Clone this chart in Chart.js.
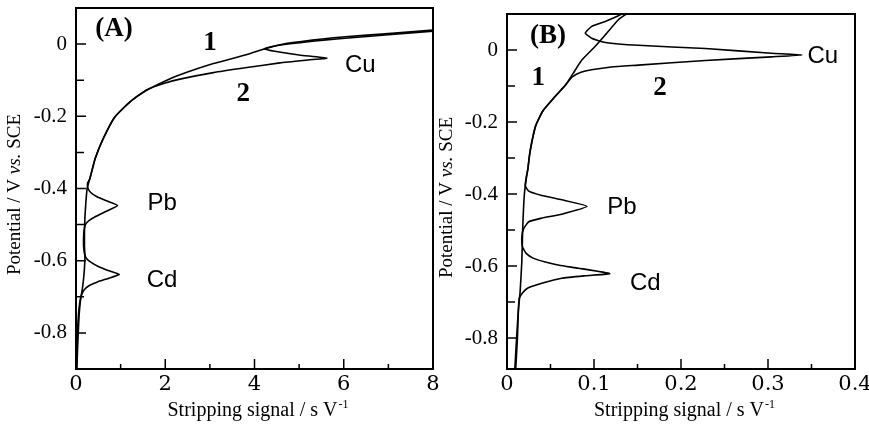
<!DOCTYPE html>
<html>
<head>
<meta charset="utf-8">
<script src="https://cdn.jsdelivr.net/npm/chart.js@4.4.0/dist/chart.umd.min.js"></script>
<style>
  html, body { margin: 0; padding: 0; background: #fff; }
  #wrap { position: relative; width: 869px; height: 425px; }
  canvas { position: absolute; top: 0; }
  #chartA { left: 0; }
  #chartB { left: 430px; }
</style>
</head>
<body>
<div id="wrap">
  <canvas id="chartA" width="440" height="425"></canvas>
  <canvas id="chartB" width="439" height="425"></canvas>
</div>
<script>
// [stripping signal (s/V), potential (V vs SCE)] pairs, listed from the cathodic end upward

// (A) curve 1
const curveA1 = [
  [0.02, -0.90], [0.03, -0.86], [0.05, -0.80], [0.07, -0.75], [0.10, -0.71], [0.14, -0.68],
  [0.17, -0.65], [0.19, -0.62], [0.20, -0.59], [0.19, -0.56], [0.19, -0.52], [0.20, -0.48],
  [0.22, -0.44], [0.25, -0.40], [0.31, -0.373], [0.43, -0.317], [0.61, -0.262], [0.87, -0.202],
  [1.21, -0.16], [1.58, -0.128], [2.0, -0.102], [2.33, -0.085], [3.08, -0.054], [3.83, -0.029],
  [4.2, -0.014], [4.6, -0.001], [5.3, 0.011], [5.9, 0.019], [7.0, 0.029], [8.0, 0.039]
];

// (A) curve 2: Cd, Pb and Cu peaks
const curveA2 = [
  [0.01, -0.90], [0.02, -0.84], [0.04, -0.78], [0.07, -0.73], [0.11, -0.70], [0.16, -0.685],
  [0.22, -0.676], [0.31, -0.668], [0.48, -0.659], [0.72, -0.649], [0.97, -0.638], [0.72, -0.627],
  [0.50, -0.616], [0.33, -0.604], [0.23, -0.593], [0.19, -0.58], [0.17, -0.56], [0.17, -0.535],
  [0.18, -0.515], [0.21, -0.50], [0.29, -0.489], [0.45, -0.477], [0.68, -0.463], [0.93, -0.447],
  [0.68, -0.434], [0.47, -0.423], [0.33, -0.411], [0.27, -0.40], [0.26, -0.385], [0.31, -0.373],
  [0.43, -0.317], [0.61, -0.262], [0.87, -0.202], [1.21, -0.16], [1.58, -0.127], [2.0, -0.108],
  [2.33, -0.097], [3.08, -0.079], [3.83, -0.065], [4.57, -0.052], [5.2, -0.044], [5.62, -0.039],
  [5.0, -0.030], [4.42, -0.019], [4.22, -0.013], [4.5, -0.004], [5.3, 0.008], [5.9, 0.015],
  [7.0, 0.026], [8.0, 0.036]
];

// (B) curve 1
const curveB1 = [
  [0.009, -0.886], [0.011, -0.80], [0.013, -0.725], [0.015, -0.674], [0.017, -0.59], [0.018, -0.50],
  [0.019, -0.44], [0.020, -0.40], [0.022, -0.36], [0.024, -0.33], [0.026, -0.29], [0.029, -0.25],
  [0.033, -0.21], [0.041, -0.17], [0.055, -0.13], [0.067, -0.098], [0.076, -0.065], [0.086, -0.028],
  [0.101, 0.009], [0.113, 0.042], [0.128, 0.084], [0.137, 0.10]
];

// (B) curve 2: Cd, Pb and Cu peaks
const curveB2 = [
  [0.010, -0.886], [0.012, -0.80], [0.013, -0.73], [0.014, -0.69], [0.018, -0.674], [0.024, -0.661],
  [0.040, -0.648], [0.063, -0.634], [0.090, -0.627], [0.118, -0.621], [0.082, -0.606], [0.060, -0.598],
  [0.044, -0.589], [0.030, -0.578], [0.022, -0.565], [0.018, -0.548], [0.017, -0.52], [0.019, -0.497],
  [0.025, -0.477], [0.040, -0.467], [0.063, -0.456], [0.092, -0.434], [0.063, -0.416], [0.040, -0.404],
  [0.025, -0.392], [0.021, -0.377], [0.022, -0.355], [0.024, -0.33], [0.026, -0.29], [0.029, -0.25],
  [0.033, -0.21], [0.041, -0.17], [0.055, -0.13], [0.067, -0.098], [0.075, -0.075], [0.085, -0.062],
  [0.097, -0.055], [0.120, -0.047], [0.151, -0.042], [0.228, -0.029], [0.304, -0.019], [0.339, -0.014],
  [0.304, -0.009], [0.228, 0.004], [0.151, 0.013], [0.113, 0.021], [0.098, 0.032], [0.090, 0.047],
  [0.097, 0.065], [0.113, 0.079], [0.128, 0.095], [0.132, 0.10]
];

// axis ticks
const potTicks = [-0.8, -0.6, -0.4, -0.2, 0];
const potMinor = [-0.7, -0.5, -0.3, -0.1];
const sigTicksA = [0, 2, 4, 6, 8];
const sigMinorA = [1, 3, 5, 7];
const sigTicksB = [0, 0.1, 0.2, 0.3, 0.4];
const sigMinorB = [0.05, 0.15, 0.25, 0.35];

const SERIF = '"Liberation Serif", "Times New Roman", serif';
const SANS = '"Liberation Sans", Arial, sans-serif';

// text labels placed in data coordinates
const notesA = [
  { text: '(A)', x: 0.85, y: 0.042, bold: true },
  { text: '1', x: 3.0, y: 0.004, bold: true },
  { text: '2', x: 3.75, y: -0.137, bold: true },
  { text: 'Cu', x: 6.37, y: -0.058 },
  { text: 'Pb', x: 1.93, y: -0.442 },
  { text: 'Cd', x: 1.93, y: -0.655 }
];
const notesB = [
  { text: '(B)', x: 0.047, y: 0.039, bold: true },
  { text: '1', x: 0.036, y: -0.078, bold: true },
  { text: '2', x: 0.176, y: -0.107, bold: true },
  { text: 'Cu', x: 0.363, y: -0.017 },
  { text: 'Pb', x: 0.132, y: -0.438 },
  { text: 'Cd', x: 0.159, y: -0.647 }
];

// frame, inward ticks, axis titles and peak labels
function makeDecor(p) {
  return {
    id: 'decor',
    afterDraw(chart) {
      const { ctx, chartArea: a, scales: { x, y } } = chart;
      ctx.save();
      ctx.strokeStyle = '#000';
      ctx.fillStyle = '#000';

      ctx.lineWidth = 2;
      ctx.strokeRect(a.left, a.top, a.right - a.left, a.bottom - a.top);

      ctx.lineWidth = 1.5;
      ctx.beginPath();
      const tx = (v, len) => {
        const px = x.getPixelForValue(v);
        ctx.moveTo(px, a.bottom); ctx.lineTo(px, a.bottom - len);
      };
      const ty = (v, len) => {
        const py = y.getPixelForValue(v);
        ctx.moveTo(a.left, py); ctx.lineTo(a.left + len, py);
      };
      p.xTicks.forEach(v => tx(v, 10));
      p.xMinor.forEach(v => tx(v, 5));
      potTicks.forEach(v => ty(v, 10));
      potMinor.forEach(v => ty(v, 8));
      ctx.stroke();

      // y title, "vs." in italics
      const parts = [
        { s: 'Potential / V ', f: '19px ' + SERIF },
        { s: 'vs.', f: 'italic 19px ' + SERIF },
        { s: ' SCE', f: '19px ' + SERIF }
      ];
      let total = 0;
      parts.forEach(q => { ctx.font = q.f; q.w = ctx.measureText(q.s).width; total += q.w; });
      ctx.save();
      ctx.translate(p.yTitleX, (a.top + a.bottom) / 2 + 6);
      ctx.rotate(-Math.PI / 2);
      ctx.textBaseline = 'middle';
      ctx.textAlign = 'left';
      let cx = -total / 2;
      parts.forEach(q => { ctx.font = q.f; ctx.fillText(q.s, cx, 0); cx += q.w; });
      ctx.restore();

      // x title with superscript
      ctx.textBaseline = 'alphabetic';
      ctx.textAlign = 'left';
      ctx.font = '20px ' + SERIF;
      const main = 'Stripping signal / s V';
      const wMain = ctx.measureText(main).width;
      ctx.font = '12px ' + SERIF;
      const wSup = ctx.measureText('-1').width;
      const x0 = (a.left + a.right) / 2 + 3 - (wMain + wSup) / 2;
      ctx.font = '20px ' + SERIF;
      ctx.fillText(main, x0, 416);
      ctx.font = '12px ' + SERIF;
      ctx.fillText('-1', x0 + wMain + 1, 408);

      // panel letters, curve numbers, peak names
      ctx.textAlign = 'center';
      ctx.textBaseline = 'middle';
      p.notes.forEach(n => {
        ctx.font = n.bold ? 'bold 27px ' + SERIF : '24px ' + SANS;
        ctx.fillText(n.text, x.getPixelForValue(n.x), y.getPixelForValue(n.y));
      });
      ctx.restore();
    }
  };
}

function makePanel(id, p) {
  const fmt = v => (v === 0 ? '0' : String(v));
  const fmtPot = v => (v === 0 ? '0' : v.toFixed(1));
  const line = data => ({
    data,
    showLine: true,
    borderColor: '#000',
    borderWidth: 1.6,
    pointRadius: 0,
    tension: 0.15,
    fill: false
  });
  new Chart(document.getElementById(id), {
    type: 'scatter',
    data: { datasets: p.curves.map(line) },
    plugins: [makeDecor(p)],
    options: {
      responsive: false,
      animation: false,
      events: [],
      layout: { padding: { top: p.top, right: p.right, left: 0, bottom: 0 } },
      plugins: { legend: { display: false }, tooltip: { enabled: false } },
      scales: {
        x: {
          type: 'linear',
          min: p.xRange[0],
          max: p.xRange[1],
          grid: { display: false, drawTicks: false },
          border: { display: false },
          afterBuildTicks: s => { s.ticks = p.xTicks.map(v => ({ value: v })); },
          afterFit: s => { s.height = 56; s.paddingLeft = 0; s.paddingRight = 0; },
          ticks: {
            color: '#000',
            padding: 3,
            maxRotation: 0,
            autoSkip: false,
            font: { family: '"DejaVu Serif", serif', size: 21 },
            callback: fmt
          }
        },
        y: {
          type: 'linear',
          min: p.yRange[0],
          max: p.yRange[1],
          grid: { display: false, drawTicks: false },
          border: { display: false },
          afterBuildTicks: s => { s.ticks = potTicks.map(v => ({ value: v })); },
          afterFit: s => { s.width = p.yAxisWidth; s.paddingTop = 0; s.paddingBottom = 0; },
          ticks: {
            color: '#000',
            padding: 9,
            autoSkip: false,
            font: { family: SERIF, size: 21 },
            callback: fmtPot
          }
        }
      }
    }
  });
}

makePanel('chartA', {
  curves: [curveA1, curveA2],
  xRange: [0, 8], yRange: [-0.9, 0.1],
  xTicks: sigTicksA, xMinor: sigMinorA,
  notes: notesA,
  top: 8, right: 7, yAxisWidth: 76, yTitleX: 15
});

makePanel('chartB', {
  curves: [curveB1, curveB2],
  xRange: [0, 0.4], yRange: [-0.886, 0.1],
  xTicks: sigTicksB, xMinor: sigMinorB,
  notes: notesB,
  top: 14, right: 14, yAxisWidth: 77, yTitleX: 17
});
</script>
</body>
</html>
